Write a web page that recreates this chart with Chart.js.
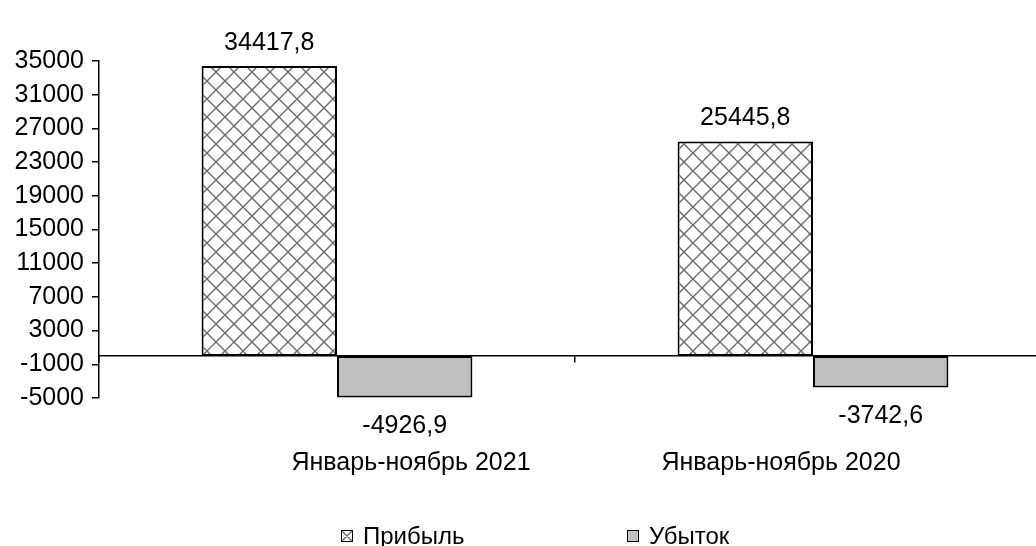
<!DOCTYPE html>
<html>
<head>
<meta charset="utf-8">
<script src="https://cdn.jsdelivr.net/npm/chart.js@4.4.0/dist/chart.umd.min.js"></script>
<style>
    html, body { margin: 0; padding: 0; overflow: hidden; background: #fff; }
</style>
</head>
<body>
<canvas id="myChart" width="1051" height="546"></canvas>
<script>
var categories = ['Январь-ноябрь 2021', 'Январь-ноябрь 2020'];
var seriesNames = ['Прибыль', 'Убыток'];
var profit = [34417.8, 25445.8];
var loss = [-4926.9, -3742.6];
var yTicks = [-5000, -1000, 3000, 7000, 11000, 15000, 19000, 23000, 27000, 31000, 35000];

var FONT = "'Liberation Sans', Arial, sans-serif";
// the category captions in the original sit off the group centres
var captionShift = [74, -32];

// crosshatch fill like the excel pattern
function hatch(size) {
    var c = document.createElement('canvas');
    c.width = size;
    c.height = size;
    var g = c.getContext('2d');
    g.fillStyle = '#fff';
    g.fillRect(0, 0, size, size);
    g.strokeStyle = '#6a6a6a';
    g.lineWidth = 1.4;
    g.beginPath();
    for (var k = -1; k <= 1; k++) {
        g.moveTo(k * size, 0);
        g.lineTo(k * size + size, size);
        g.moveTo(k * size + size, 0);
        g.lineTo(k * size, size);
    }
    g.stroke();
    return g.createPattern(c, 'repeat');
}

var hatchFill = hatch(18);
var hatchSmall = hatch(12);

function fmt(v) {
    return v.toFixed(1).replace('.', ',');
}

var valueLabels = {
    id: 'valueLabels',
    afterDatasetsDraw(chart) {
        var ctx = chart.ctx;
        var xs = chart.scales.x;
        ctx.save();
        ctx.font = '25px ' + FONT;
        ctx.fillStyle = '#000';
        ctx.textAlign = 'center';
        ctx.textBaseline = 'alphabetic';
        chart.data.datasets.forEach(function (ds, i) {
            chart.getDatasetMeta(i).data.forEach(function (bar, j) {
                var v = ds.data[j];
                var y = v >= 0 ? bar.y - 16 : bar.y + 36;
                ctx.fillText(fmt(v), bar.x, y);
            });
        });
        // category captions under the plot
        ctx.textBaseline = 'middle';
        categories.forEach(function (c, i) {
            ctx.fillText(c, xs.getPixelForTick(i) + captionShift[i], chart.chartArea.bottom + 65);
        });
        ctx.restore();
    }
};

var bottomLegend = {
    id: 'bottomLegend',
    afterDraw(chart) {
        var ctx = chart.ctx;
        var box = 12, gap = 10, step = 286;
        ctx.save();
        ctx.font = '24px ' + FONT;
        var sets = chart.data.datasets;
        var lastW = ctx.measureText(sets[sets.length - 1].label).width;
        var total = step * (sets.length - 1) + box + gap + lastW;
        var x0 = chart.width / 2 + 10 - total / 2;
        var cy = chart.height - 10;
        sets.forEach(function (ds, i) {
            var x = Math.round(x0 + i * step);
            var top = Math.round(cy - box / 2);
            ctx.save();
            ctx.translate(x, top);
            ctx.fillStyle = ds.legendFill || ds.backgroundColor;
            ctx.fillRect(0, 0, box, box);
            ctx.strokeStyle = '#000';
            ctx.lineWidth = 1;
            ctx.strokeRect(0.5, 0.5, box - 1, box - 1);
            ctx.restore();
            ctx.fillStyle = '#000';
            ctx.textAlign = 'left';
            ctx.textBaseline = 'middle';
            ctx.fillText(ds.label, x + box + gap, cy + 1);
        });
        ctx.restore();
    }
};

var context = document.getElementById('myChart').getContext('2d');

new Chart(context, {
    type: 'bar',
    data: {
        labels: categories,
        datasets: [
            {
                label: seriesNames[0],
                data: profit,
                backgroundColor: hatchFill,
                legendFill: hatchSmall,
                borderColor: '#000',
                borderWidth: 2,
                borderSkipped: false
            },
            {
                label: seriesNames[1],
                data: loss,
                backgroundColor: '#c0c0c0',
                borderColor: '#000',
                borderWidth: 2,
                borderSkipped: false
            }
        ]
    },
    plugins: [valueLabels, bottomLegend],
    options: {
        responsive: false,
        animation: false,
        devicePixelRatio: 1,
        layout: { padding: { top: 61, left: 0, right: 0, bottom: 148 } },
        datasets: {
            bar: { categoryPercentage: 0.569, barPercentage: 1 }
        },
        plugins: {
            legend: { display: false },
            tooltip: { enabled: false }
        },
        scales: {
            x: {
                type: 'category',
                position: { y: 0 },
                offset: true,
                grid: { offset: true, drawOnChartArea: false, tickLength: 6, color: '#000', lineWidth: 1.5 },
                border: { color: '#000', width: 1.5 },
                ticks: { display: false }
            },
            y: {
                min: -5000,
                max: 35000,
                afterBuildTicks: function (scale) {
                    scale.ticks = yTicks.map(function (v) { return { value: v }; });
                },
                afterFit: function (scale) {
                    scale.width = 99;
                },
                grid: { drawOnChartArea: false, tickLength: 7, color: '#000', lineWidth: 1.5 },
                border: { color: '#000', width: 1.5 },
                ticks: {
                    color: '#000',
                    font: { family: FONT, size: 25 },
                    padding: 8,
                    autoSkip: false,
                    callback: function (v) { return String(v); }
                }
            }
        }
    }
});
</script>
</body>
</html>
